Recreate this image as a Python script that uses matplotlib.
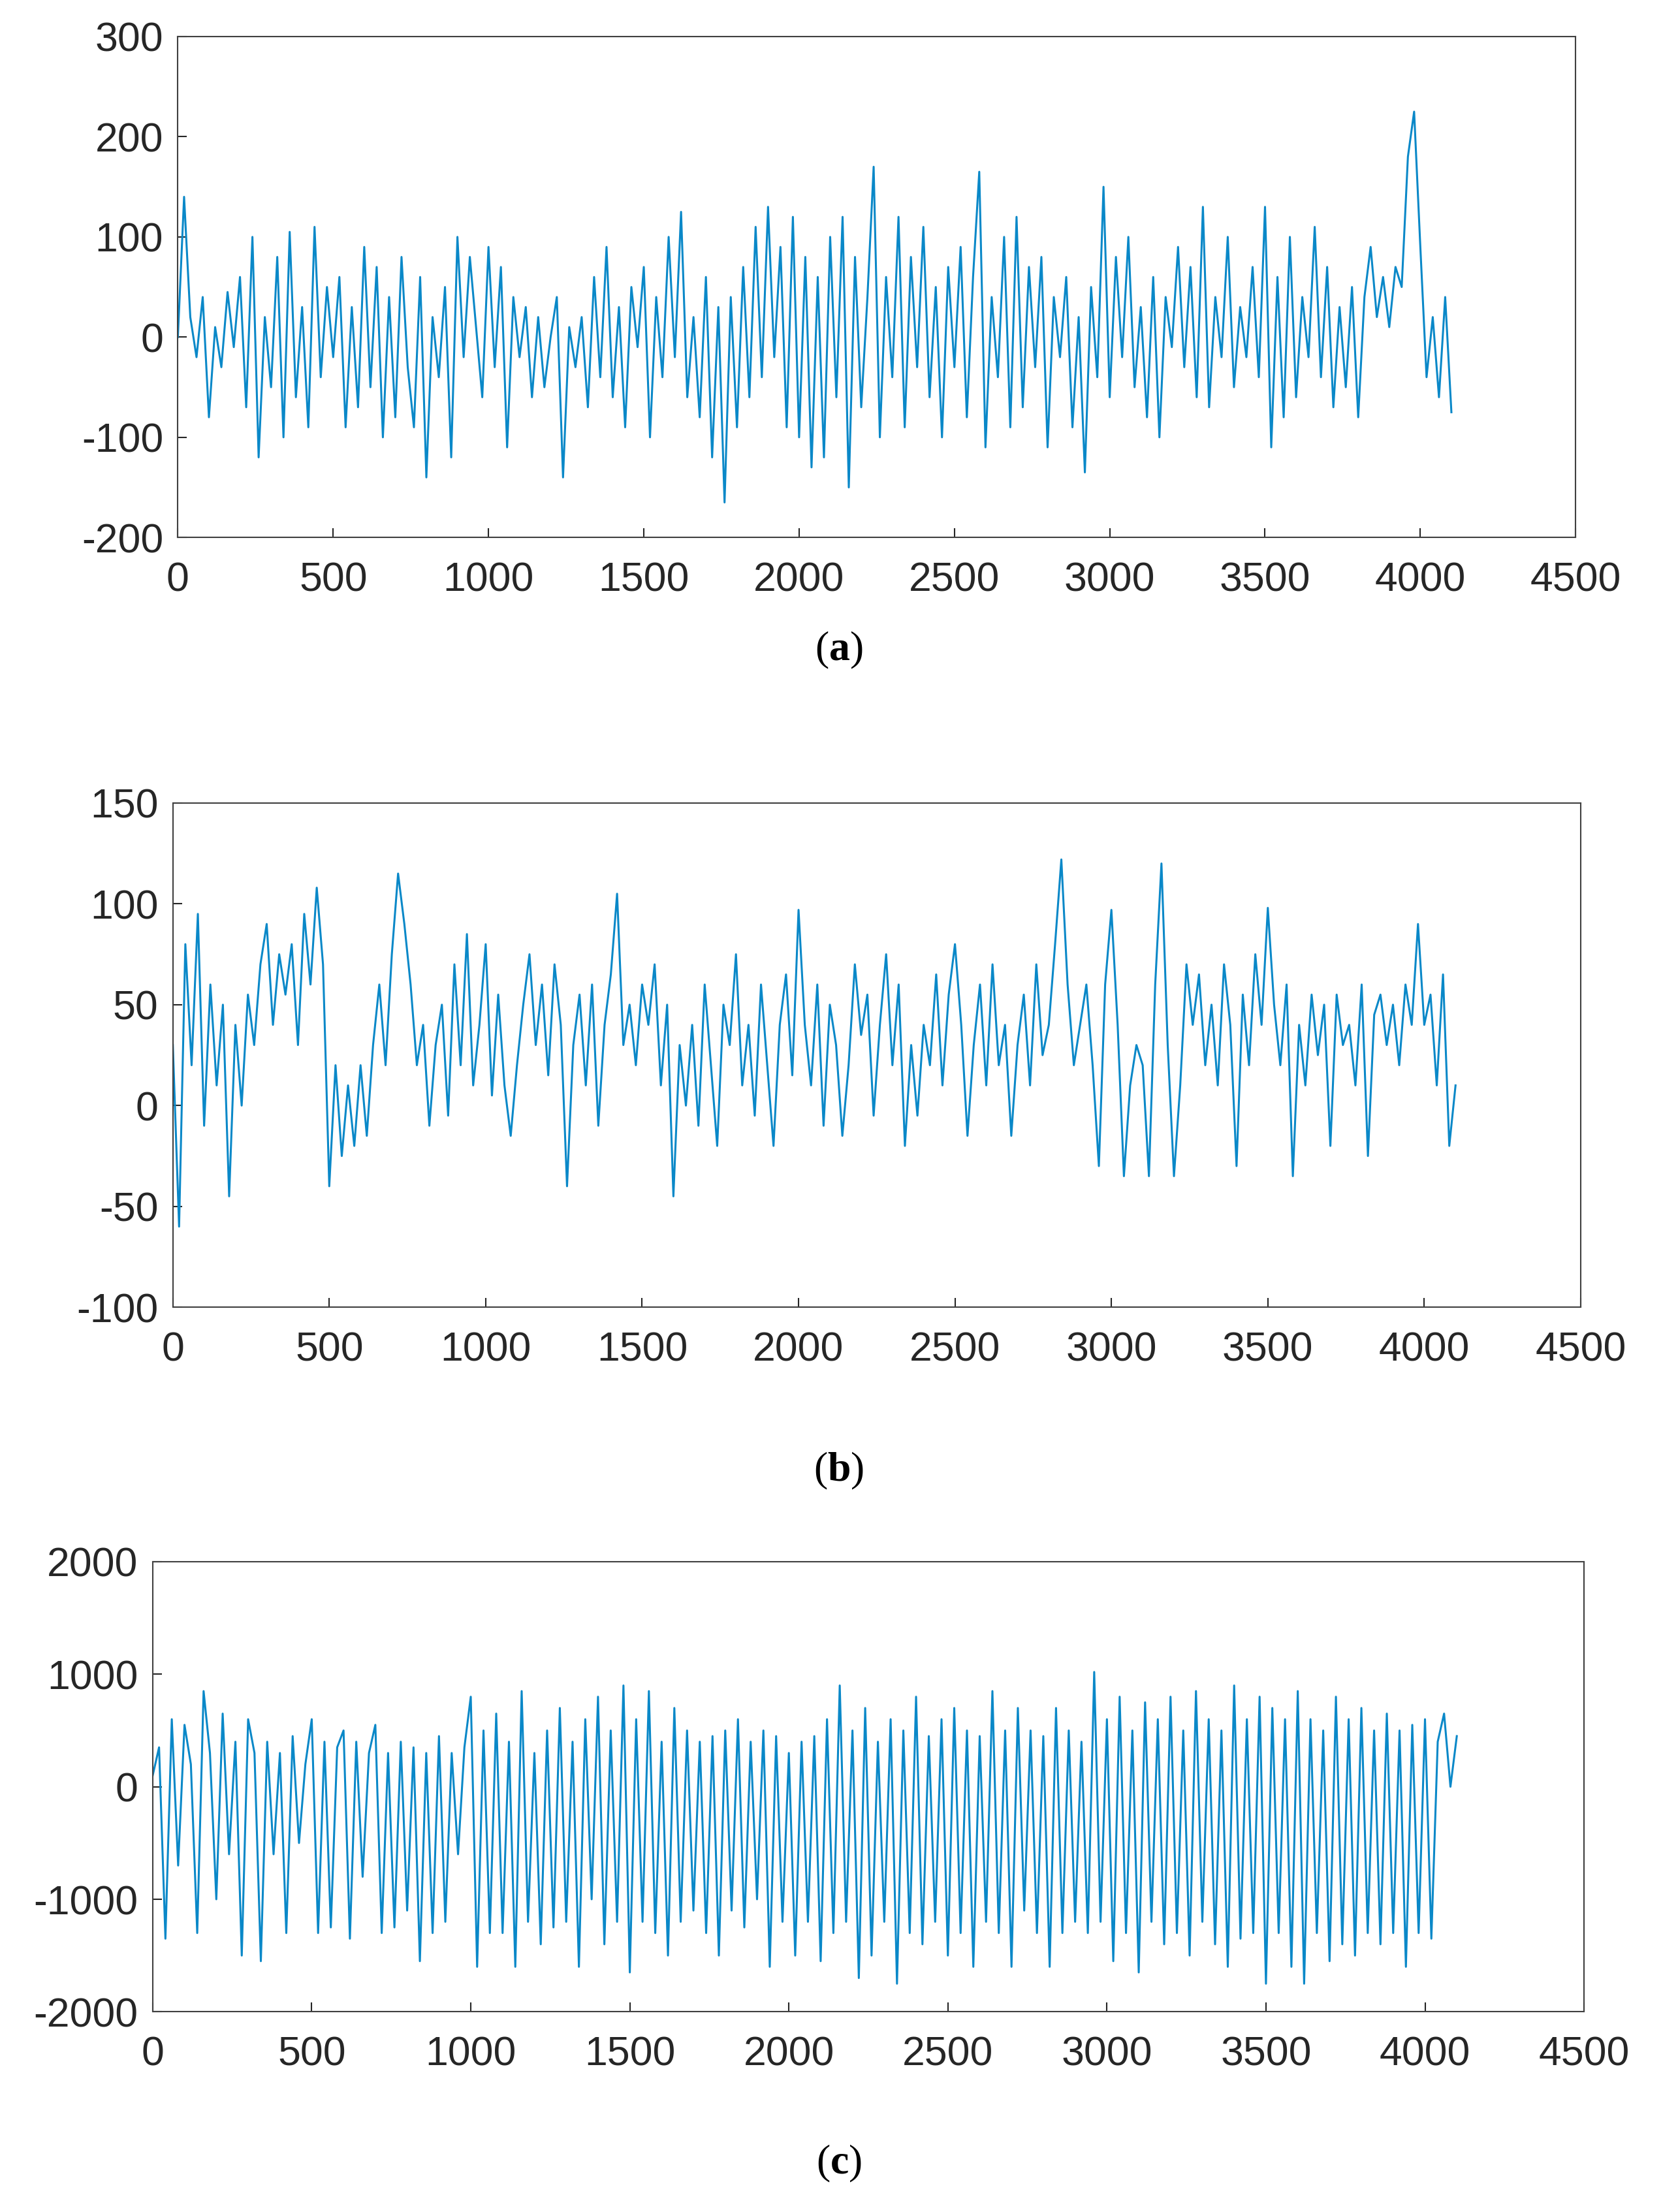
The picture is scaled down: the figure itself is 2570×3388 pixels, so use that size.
import numpy as np
import matplotlib
matplotlib.use("Agg")
import matplotlib.pyplot as plt

plt.rcParams["axes.unicode_minus"] = False
plt.rcParams["font.family"] = ["Liberation Sans", "DejaVu Sans"]
plt.rcParams["mathtext.fontset"] = "custom"
plt.rcParams["mathtext.rm"] = "Liberation Serif"
plt.rcParams["mathtext.bf"] = "Liberation Serif:bold"

step = 20
series_a = [0,140,20,-20,40,-80,10,-30,45,-10,60,-70,100,-120,20,-50,80,-100,105,-60,30,-90,110,-40,50,
 -20,60,-90,30,-70,90,-50,70,-100,40,-80,80,-30,-90,60,-140,20,-40,50,-120,100,-20,80,10,-60,
 90,-30,70,-110,40,-20,30,-60,20,-50,0,40,-140,10,-30,20,-70,60,-40,90,-60,30,-90,50,-10,
 70,-100,40,-40,100,-20,125,-60,20,-80,60,-120,30,-165,40,-90,70,-60,110,-40,130,-20,90,-90,120,
 -100,80,-130,60,-120,100,-60,120,-150,80,-70,40,170,-100,60,-40,120,-90,80,-30,110,-60,50,-100,70,
 -30,90,-80,60,165,-110,40,-40,100,-90,120,-70,70,-30,80,-110,40,-20,60,-90,20,-135,50,-40,150,
 -60,80,-20,100,-50,30,-80,60,-100,40,-10,90,-30,70,-60,130,-70,40,-20,100,-50,30,-20,70,-40,
 130,-110,60,-80,100,-60,40,-20,110,-40,70,-70,30,-50,50,-80,40,90,20,60,10,70,50,180,225,
 90,-40,20,-60,40,-75]
series_b = [30,-60,80,20,95,-10,60,10,50,-45,40,0,55,30,70,90,40,75,55,80,30,95,60,108,70,
 -40,20,-25,10,-20,20,-15,30,60,20,75,115,90,60,20,40,-10,30,50,-5,70,20,85,10,40,
 80,5,55,10,-15,20,50,75,30,60,15,70,40,-40,30,55,10,60,-10,40,65,105,30,50,20,
 60,40,70,10,50,-45,30,0,40,-10,60,20,-20,50,30,75,10,40,-5,60,20,-20,40,65,15,
 97,40,10,60,-10,50,30,-15,20,70,35,55,-5,40,75,20,60,-20,30,-5,40,20,65,10,55,
 80,40,-15,30,60,10,70,20,40,-15,30,55,10,70,25,40,80,122,60,20,40,60,20,-30,60,
 97,40,-35,10,30,20,-35,60,120,30,-35,10,70,40,65,20,50,10,70,40,-30,55,20,75,40,
 98,50,20,60,-35,40,10,55,25,50,-20,55,30,40,10,60,-25,45,55,30,50,20,60,40,90,
 40,55,10,65,-20,10]
series_c = [100,350,-1350,600,-700,550,200,-1300,850,300,-1000,650,-600,400,-1500,600,300,-1550,400,-600,300,-1300,450,-500,200,
 600,-1300,400,-1250,350,500,-1350,400,-800,300,550,-1300,300,-1250,400,-1100,350,-1550,300,-1300,450,-1200,300,-600,350,
 800,-1600,500,-1300,650,-1300,400,-1600,850,-1200,300,-1400,500,-1250,700,-1200,400,-1600,600,-1000,800,-1400,500,-1200,900,
 -1650,600,-1200,850,-1300,400,-1500,700,-1200,500,-1100,400,-1300,450,-1500,500,-1100,600,-1250,400,-1000,500,-1600,450,-1200,
 300,-1500,400,-1200,450,-1550,600,-1300,900,-1200,500,-1700,700,-1500,400,-1200,600,-1750,500,-1300,800,-1400,450,-1200,600,
 -1500,700,-1300,500,-1600,450,-1200,850,-1300,500,-1600,700,-1100,500,-1300,450,-1600,700,-1300,500,-1200,400,-1300,1020,-1200,
 600,-1550,800,-1300,500,-1650,750,-1200,600,-1400,800,-1300,500,-1500,850,-1200,600,-1400,500,-1600,900,-1350,600,-1300,800,
 -1750,700,-1300,600,-1600,850,-1750,600,-1300,500,-1550,800,-1400,600,-1500,700,-1300,500,-1400,650,-1300,500,-1600,550,-1300,
 600,-1350,400,650,0,450]

ylims = [(-200, 300, 100), (-100, 150, 50), (-2000, 2000, 1000)]
labels = ["a", "b", "c"]
rects = [[0.106, 0.757, 0.833, 0.2265], [0.103, 0.409, 0.839, 0.228], [0.091, 0.0905, 0.853, 0.2035]]
label_y = [0.706, 0.335, 0.022]

fig = plt.figure(figsize=(25.70, 33.88), dpi=100)
color = "#0A88C8"
for s, (lo, hi, st), r, lab, ly in zip([series_a, series_b, series_c], ylims, rects, labels, label_y):
    ax = fig.add_axes(r)
    x = np.arange(len(s)) * step
    ax.plot(x, s, color=color, lw=2.2)
    ax.set_xlim(0, 4500)
    ax.set_ylim(lo, hi)
    ax.set_xticks(np.arange(0, 4501, 500))
    ax.set_yticks(np.arange(lo, hi + 1, st))
    ax.tick_params(direction="in", length=10, width=1.5, labelsize=45, colors="#262626")
    ax.tick_params(axis="x", pad=26)
    ax.tick_params(axis="y", pad=16)
    for sp in ax.spines.values():
        sp.set_color("#404040")
        sp.set_linewidth(1.5)
    fig.text(0.5, ly, r"($\mathbf{%s}$)" % lab, fontsize=46, family="Liberation Serif",
             ha="center", va="center")

fig.savefig("out.png", dpi=100)
